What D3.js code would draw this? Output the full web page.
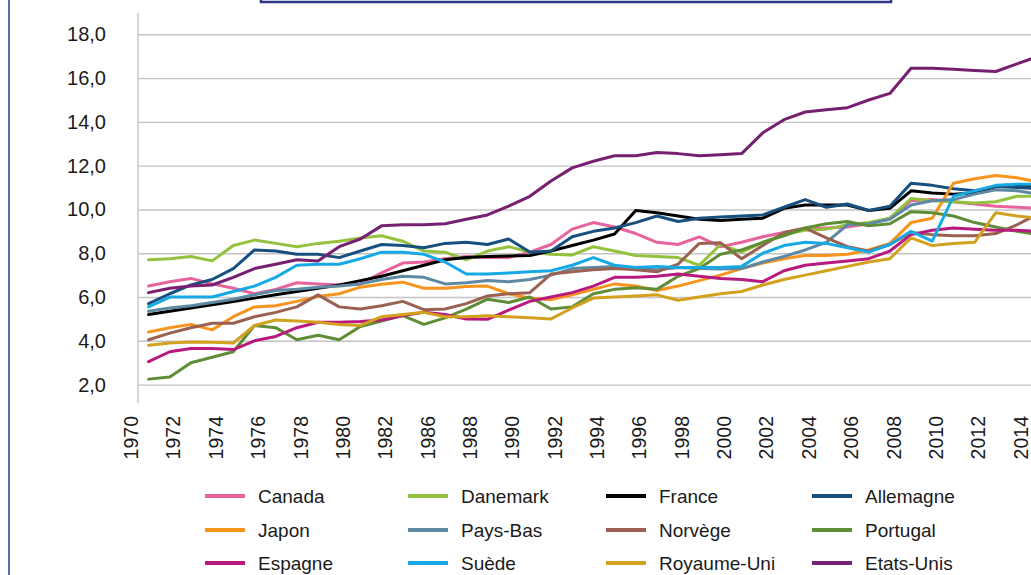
<!DOCTYPE html>
<html>
<head>
<meta charset="utf-8">
<script src="https://cdn.jsdelivr.net/npm/d3@7"></script>
<style>
  html, body { margin: 0; padding: 0; background: #fff; overflow: hidden; }
  svg { display: block; font-family: "Liberation Sans", Arial, sans-serif; }
</style>
</head>
<body>
<svg id="chart" width="1031" height="575"></svg>
<script>
// Categories (years) on the horizontal axis
const years = [1970, 1971, 1972, 1973, 1974, 1975, 1976, 1977, 1978, 1979, 1980, 1981, 1982,
  1984, 1986, 1987, 1988, 1989, 1990, 1991, 1992, 1993, 1994, 1995, 1996, 1997, 1998, 1999,
  2000, 2001, 2002, 2003, 2004, 2005, 2006, 2007, 2008, 2009, 2010, 2011, 2012, 2013, 2014];

// Value axis ticks
const yTicks = [2, 4, 6, 8, 10, 12, 14, 16, 18];

// Series values, one per year
const canada = [6.5, 6.7, 6.85, 6.6, 6.4, 6.15, 6.35, 6.65, 6.6, 6.55, 6.6, 7.1, 7.55, 7.6, 7.75, 7.85, 7.8, 7.8, 8.05, 8.4, 9.1, 9.4, 9.2, 8.9, 8.5, 8.4, 8.75, 8.3, 8.5, 8.75, 8.95, 9.1, 9.15, 9.2, 9.35, 9.6, 10.4, 10.45, 10.35, 10.25, 10.15, 10.1, 10.05];
const danemark = [7.7, 7.75, 7.85, 7.65, 8.35, 8.6, 8.45, 8.3, 8.45, 8.55, 8.7, 8.8, 8.55, 8.1, 8.05, 7.7, 8.1, 8.3, 8.05, 7.95, 7.92, 8.3, 8.1, 7.9, 7.85, 7.8, 7.45, 8.4, 8.05, 8.5, 8.85, 9.05, 9.1, 9.3, 9.4, 9.6, 10.5, 10.4, 10.35, 10.3, 10.35, 10.6, 10.6];
const france = [5.2, 5.35, 5.5, 5.65, 5.8, 5.95, 6.1, 6.25, 6.4, 6.55, 6.75, 6.95, 7.2, 7.45, 7.7, 7.8, 7.85, 7.87, 7.9, 8.1, 8.35, 8.6, 8.88, 9.95, 9.85, 9.7, 9.55, 9.5, 9.55, 9.6, 10.05, 10.2, 10.2, 10.2, 9.95, 10.05, 10.85, 10.75, 10.7, 10.75, 11.05, 11.1, 11.1];
const allemagne = [5.7, 6.15, 6.55, 6.8, 7.3, 8.15, 8.1, 7.95, 7.95, 7.8, 8.1, 8.4, 8.35, 8.25, 8.45, 8.5, 8.4, 8.65, 8.05, 8.1, 8.75, 9.0, 9.15, 9.4, 9.7, 9.45, 9.6, 9.65, 9.7, 9.75, 10.1, 10.45, 10.1, 10.25, 9.95, 10.15, 11.2, 11.1, 10.95, 10.85, 11.05, 11.0, 10.95];
const japon = [4.4, 4.6, 4.75, 4.5, 5.1, 5.55, 5.6, 5.8, 6.02, 6.15, 6.45, 6.58, 6.68, 6.4, 6.4, 6.48, 6.5, 6.15, 5.95, 5.88, 6.1, 6.35, 6.6, 6.5, 6.3, 6.5, 6.75, 7.0, 7.3, 7.55, 7.75, 7.9, 7.9, 7.95, 8.15, 8.45, 9.4, 9.6, 11.2, 11.4, 11.55, 11.45, 11.25];
const paysBas = [5.35, 5.5, 5.6, 5.75, 5.9, 6.1, 6.3, 6.35, 6.45, 6.5, 6.6, 6.8, 6.95, 6.9, 6.6, 6.65, 6.75, 6.7, 6.8, 7.0, 7.3, 7.35, 7.4, 7.3, 7.25, 7.35, 7.3, 7.28, 7.3, 7.6, 7.85, 8.15, 8.5, 9.3, 9.35, 9.55, 10.2, 10.4, 10.45, 10.7, 10.9, 10.85, 10.7];
const norvege = [4.05, 4.35, 4.6, 4.8, 4.8, 5.1, 5.3, 5.55, 6.1, 5.55, 5.45, 5.6, 5.8, 5.42, 5.45, 5.7, 6.05, 6.15, 6.2, 7.05, 7.15, 7.25, 7.3, 7.25, 7.15, 7.5, 8.45, 8.48, 7.75, 8.35, 8.95, 9.15, 8.7, 8.3, 8.1, 8.4, 8.95, 8.85, 8.8, 8.8, 8.9, 9.3, 9.8];
const portugal = [2.25, 2.35, 3.0, 3.25, 3.5, 4.7, 4.6, 4.05, 4.25, 4.05, 4.65, 4.9, 5.15, 4.75, 5.05, 5.45, 5.9, 5.75, 6.0, 5.45, 5.55, 6.15, 6.35, 6.42, 6.35, 6.95, 7.3, 7.95, 8.15, 8.5, 8.8, 9.15, 9.35, 9.45, 9.25, 9.35, 9.9, 9.85, 9.7, 9.4, 9.2, 9.0, 8.85];
const espagne = [3.05, 3.5, 3.65, 3.65, 3.6, 4.0, 4.2, 4.6, 4.85, 4.85, 4.88, 4.95, 5.15, 5.3, 5.2, 5.0, 4.98, 5.4, 5.8, 6.0, 6.2, 6.5, 6.9, 6.9, 6.95, 7.05, 6.95, 6.85, 6.8, 6.7, 7.2, 7.45, 7.55, 7.65, 7.75, 8.1, 8.85, 9.05, 9.15, 9.1, 9.05, 9.05, 9.0];
const suede = [5.55, 6.0, 6.0, 6.0, 6.25, 6.5, 6.9, 7.45, 7.5, 7.5, 7.75, 8.05, 8.05, 7.95, 7.6, 7.05, 7.05, 7.1, 7.15, 7.2, 7.45, 7.8, 7.45, 7.35, 7.4, 7.35, 7.35, 7.35, 7.4, 8.0, 8.35, 8.5, 8.45, 8.25, 8.05, 8.4, 9.0, 8.55, 10.6, 10.85, 11.1, 11.15, 11.15];
const royaumeUni = [3.8, 3.9, 3.95, 3.93, 3.9, 4.7, 4.95, 4.9, 4.85, 4.75, 4.7, 5.1, 5.2, 5.3, 5.1, 5.1, 5.15, 5.1, 5.05, 5.0, 5.5, 5.95, 6.0, 6.05, 6.1, 5.85, 6.0, 6.15, 6.25, 6.55, 6.8, 7.0, 7.2, 7.4, 7.6, 7.75, 8.7, 8.35, 8.45, 8.5, 9.85, 9.7, 9.6];
const etatsUnis = [6.2, 6.4, 6.5, 6.55, 6.9, 7.3, 7.5, 7.7, 7.65, 8.3, 8.65, 9.25, 9.3, 9.3, 9.35, 9.55, 9.75, 10.15, 10.6, 11.3, 11.9, 12.2, 12.45, 12.45, 12.6, 12.55, 12.45, 12.5, 12.55, 13.5, 14.1, 14.45, 14.55, 14.65, 15.0, 15.3, 16.45, 16.45, 16.4, 16.35, 16.3, 16.65, 17.0];

const seriesNames = ["Canada", "Danemark", "France", "Allemagne", "Japon", "Pays-Bas",
  "Norvège", "Portugal", "Espagne", "Suède", "Royaume-Uni", "Etats-Unis"];
const seriesValues = [canada, danemark, france, allemagne, japon, paysBas,
  norvege, portugal, espagne, suede, royaumeUni, etatsUnis];
const seriesColors = ["#e8629c", "#94c13e", "#000000", "#17507e", "#f7941d", "#5e89a3",
  "#9a6153", "#5f8d36", "#b8197f", "#17a9e6", "#d3a11d", "#771f70"];

const W = 1031, H = 575;
const svg = d3.select("#chart");

// Plot geometry
const plotLeft = 138, step = 21.18;
const x = d3.scalePoint()
  .domain(years)
  .range([plotLeft, plotLeft + step * years.length])
  .padding(0.5);
const y = d3.scaleLinear().domain([2, 18]).range([384.6, 34.3]);

// Horizontal gridlines and value labels
const yAxis = d3.axisLeft(y)
  .tickValues(yTicks)
  .tickSize(-(W - plotLeft))
  .tickPadding(32)
  .tickFormat(d => d3.format(".1f")(d).replace(".", ","));
const gy = svg.append("g").attr("transform", `translate(${plotLeft},0)`).call(yAxis);
gy.select(".domain").remove();
gy.selectAll(".tick line").attr("stroke", "#c4c4c4").attr("stroke-width", 1.4);
gy.selectAll(".tick text")
  .attr("fill", "#1a1a1a")
  .style("font-size", "20px");

// Vertical value axis line
svg.append("line")
  .attr("x1", plotLeft).attr("x2", plotLeft)
  .attr("y1", 13).attr("y2", 403)
  .attr("stroke", "#cccccc").attr("stroke-width", 1.6);

// Year labels, every second category, rotated
const labelYears = years.filter((d, i) => i % 2 === 0);
svg.append("g").selectAll("text")
  .data(labelYears)
  .join("text")
  .attr("transform", d => `translate(${x(d) - 17.5},416) rotate(-90)`)
  .attr("text-anchor", "end")
  .attr("dominant-baseline", "central")
  .attr("fill", "#1a1a1a")
  .style("font-size", "19.5px")
  .text(d => d);

// Series lines
const line = d3.line()
  .x((d, i) => x(years[i]))
  .y(d => y(d));
svg.append("g").selectAll("path")
  .data(seriesValues)
  .join("path")
  .attr("d", d => line(d))
  .attr("fill", "none")
  .attr("stroke", (d, i) => seriesColors[i])
  .attr("stroke-width", 3)
  .attr("stroke-linejoin", "round")
  .attr("stroke-linecap", "round");

// Legend: 4 columns x 3 rows
const legendCols = [205, 408, 606, 812];
const legendRows = [496, 530, 563];
const lg = svg.append("g").selectAll("g")
  .data(seriesNames)
  .join("g")
  .attr("transform", (d, i) => `translate(${legendCols[i % 4]},${legendRows[Math.floor(i / 4)]})`);
lg.append("line")
  .attr("x1", 0).attr("x2", 40)
  .attr("stroke", (d, i) => seriesColors[i])
  .attr("stroke-width", 4);
lg.append("text")
  .attr("x", 53)
  .attr("dominant-baseline", "central")
  .attr("fill", "#1a1a1a")
  .style("font-size", "19px")
  .text(d => d);

// Frame pieces: left rule and the lower edge of the title box
svg.append("line")
  .attr("x1", 9).attr("x2", 9).attr("y1", 0).attr("y2", H)
  .attr("stroke", "#2d3a8c").attr("stroke-width", 1.5);
svg.append("rect")
  .attr("x", 261).attr("y", -12).attr("width", 630).attr("height", 14)
  .attr("fill", "#fff")
  .attr("stroke", "#2d3a8c").attr("stroke-width", 2.5);
</script>
</body>
</html>
